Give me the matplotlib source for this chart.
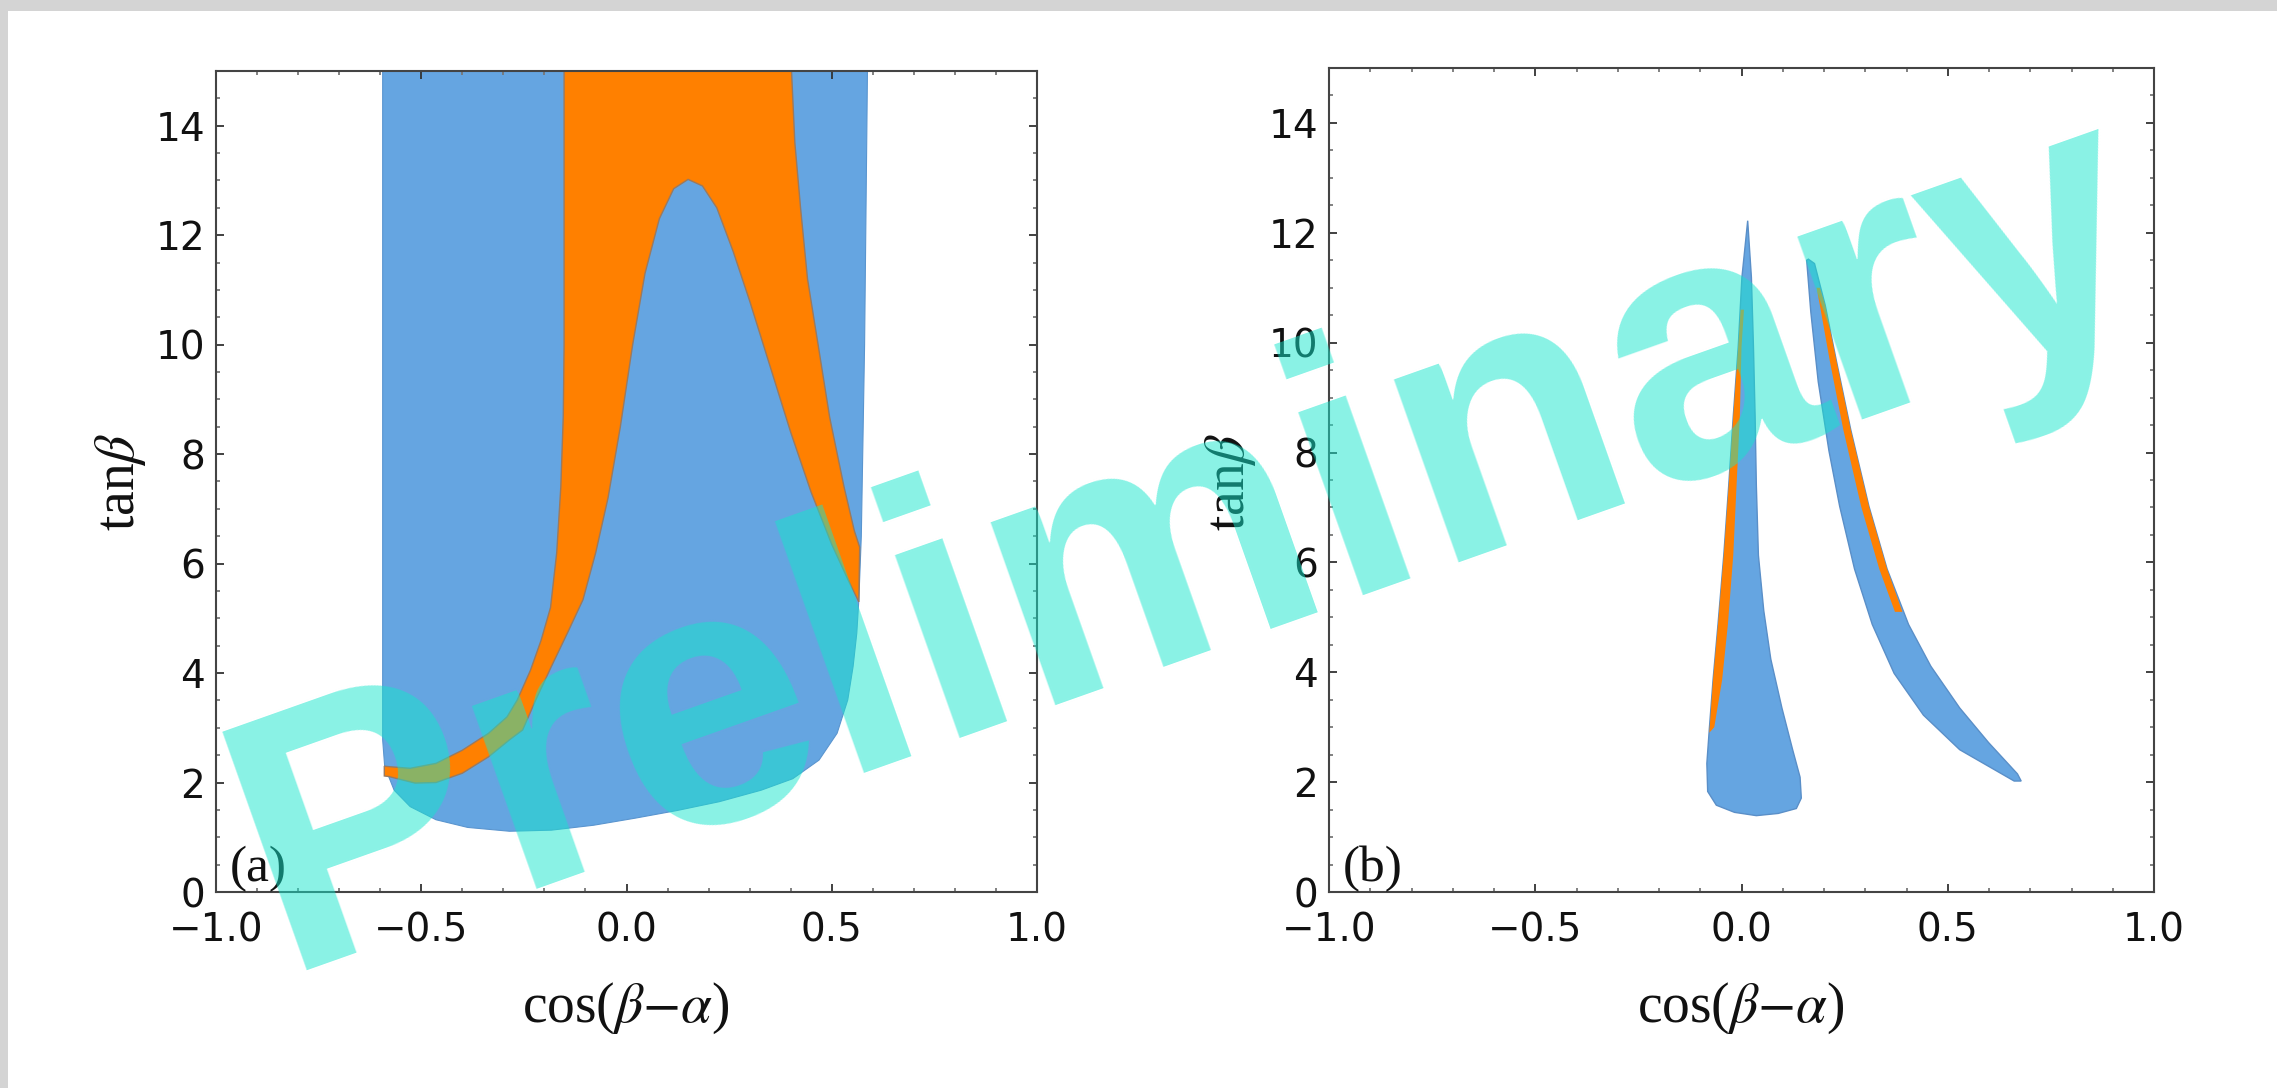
import matplotlib
matplotlib.use("Agg")
import matplotlib.pyplot as plt
from matplotlib.patches import Polygon, Rectangle
from matplotlib.ticker import MultipleLocator

# ---------------- data ----------------
# panel (a): allowed (blue) region boundary
blue_a_x = [-0.594, -0.594, -0.589, -0.566, -0.527, -0.464, -0.387, -0.285, -0.183,
            -0.080, 0.022, 0.124, 0.226, 0.328, 0.405, 0.469, 0.513, 0.539, 0.552,
            0.561, 0.566, 0.572, 0.580, 0.587]
blue_a_y = [15.0, 2.78, 2.29, 1.86, 1.56, 1.32, 1.18, 1.11, 1.13,
            1.22, 1.35, 1.49, 1.65, 1.86, 2.07, 2.41, 2.90, 3.51, 4.12,
            4.73, 5.34, 6.5, 10.0, 15.0]

# panel (a): orange region boundary
orange_a_x = [-0.152, -0.152, -0.154, -0.160, -0.170, -0.185, -0.208, -0.234, -0.266,
              -0.291, -0.336, -0.400, -0.464, -0.527, -0.579, -0.590,
              -0.590, -0.579, -0.515, -0.464, -0.400, -0.336, -0.285, -0.253,
              -0.221, -0.183, -0.144, -0.106, -0.075, -0.045, -0.015, 0.015,
              0.045, 0.080, 0.115, 0.150, 0.185, 0.220, 0.260, 0.300, 0.350,
              0.400, 0.450, 0.500, 0.540, 0.566,
              0.568, 0.555, 0.530, 0.495, 0.468, 0.441, 0.424, 0.410, 0.402]
orange_a_y = [15.0, 10.0, 8.7, 7.4, 6.2, 5.2, 4.60, 4.05, 3.51,
              3.20, 2.90, 2.59, 2.35, 2.26, 2.29, 2.30,
              2.12, 2.11, 1.99, 2.00, 2.17, 2.47, 2.78, 2.96,
              3.51, 4.12, 4.73, 5.34, 6.20, 7.20, 8.50, 10.0,
              11.3, 12.3, 12.85, 13.02, 12.90, 12.50, 11.70, 10.80, 9.60,
              8.40, 7.30, 6.35, 5.70, 5.30,
              6.30, 6.60, 7.40, 8.67, 9.94, 11.2, 12.5, 13.7, 15.0]

# panel (b): left allowed island
blue_b1_x = [0.015, 0.001, -0.008, -0.020, -0.031, -0.043, -0.057, -0.069, -0.078,
             -0.084, -0.082, -0.061, -0.017, 0.036, 0.089, 0.133, 0.145, 0.142,
             0.124, 0.098, 0.071, 0.054, 0.041, 0.036, 0.033, 0.029, 0.024]
blue_b1_y = [12.22, 11.19, 9.92, 8.66, 7.40, 6.13, 4.87, 3.86, 2.97,
             2.34, 1.83, 1.58, 1.45, 1.39, 1.43, 1.52, 1.71, 2.09,
             2.59, 3.35, 4.24, 5.12, 6.13, 7.40, 8.66, 9.92, 11.19]

# panel (b): right allowed island
blue_b2_x = [0.158, 0.168, 0.186, 0.212, 0.238, 0.274, 0.317, 0.370, 0.441, 0.529,
             0.617, 0.661, 0.678, 0.669, 0.599, 0.529, 0.459, 0.405, 0.353, 0.309,
             0.265, 0.230, 0.203, 0.177, 0.162]
blue_b2_y = [11.50, 10.56, 9.29, 8.03, 7.02, 5.88, 4.87, 3.98, 3.22, 2.59,
             2.21, 2.02, 2.02, 2.15, 2.72, 3.35, 4.11, 4.87, 5.88, 7.02,
             8.41, 9.67, 10.68, 11.44, 11.52]

# panel (b): orange slivers
orange_b1_x = [-0.078, -0.069, -0.057, -0.043, -0.031, -0.020, -0.008, -0.002,
               0.006, 0.000, -0.004, -0.012, -0.020, -0.033, -0.047, -0.066]
orange_b1_y = [2.90, 3.86, 4.87, 6.13, 7.40, 8.66, 9.92, 10.6,
               10.6, 9.92, 8.66, 7.40, 6.13, 4.87, 3.86, 3.00]
orange_b2_x = [0.190, 0.203, 0.230, 0.265, 0.309, 0.353, 0.390,
               0.372, 0.334, 0.290, 0.247, 0.214, 0.190, 0.182]
orange_b2_y = [11.0, 10.68, 9.67, 8.41, 7.02, 5.88, 5.10,
               5.10, 5.88, 7.02, 8.41, 9.67, 10.68, 11.0]

x_ticks = [-1.0, -0.5, 0.0, 0.5, 1.0]
x_ticklabels = ["\u22121.0", "\u22120.5", "0.0", "0.5", "1.0"]
y_ticks = [0, 2, 4, 6, 8, 10, 12, 14]
y_ticklabels = ["0", "2", "4", "6", "8", "10", "12", "14"]
panel_labels = ["(a)", "(b)"]
watermark = "Preliminary"

# ---------------- style ----------------
plt.rcParams["mathtext.fontset"] = "stix"
BLUE = "#65A5E1"
ORANGE = "#FF8000"
W, H = 2277, 1088

fig = plt.figure(figsize=(W / 100, H / 100), dpi=100)
fig.patch.set_facecolor("white")
# grey slide border (top and left)
fig.add_artist(Rectangle((0, 1 - 11 / H), 1, 11 / H, transform=fig.transFigure,
                         facecolor="#d4d4d4", edgecolor="none", zorder=0))
fig.add_artist(Rectangle((0, 0), 8 / W, 1, transform=fig.transFigure,
                         facecolor="#d4d4d4", edgecolor="none", zorder=0))

ax1 = fig.add_axes([216 / W, 1 - 892 / H, 821 / W, 821 / H])
ax2 = fig.add_axes([1329 / W, 1 - 892 / H, 825 / W, 824 / H])

ax1.add_patch(Polygon(list(zip(blue_a_x, blue_a_y)), closed=True,
                      facecolor=BLUE, edgecolor="#5a95cf", lw=0.8, zorder=1))
ax1.add_patch(Polygon(list(zip(orange_a_x, orange_a_y)), closed=True,
                      facecolor=ORANGE, edgecolor="#9a7a60", lw=1.0, zorder=2))

ax2.add_patch(Polygon(list(zip(blue_b1_x, blue_b1_y)), closed=True,
                      facecolor=BLUE, edgecolor="#5a8fc8", lw=1.0, zorder=1))
ax2.add_patch(Polygon(list(zip(blue_b2_x, blue_b2_y)), closed=True,
                      facecolor=BLUE, edgecolor="#5a8fc8", lw=1.0, zorder=1))
ax2.add_patch(Polygon(list(zip(orange_b1_x, orange_b1_y)), closed=True,
                      facecolor=ORANGE, edgecolor="none", zorder=2))
ax2.add_patch(Polygon(list(zip(orange_b2_x, orange_b2_y)), closed=True,
                      facecolor=ORANGE, edgecolor="none", zorder=2))

for ax, lab in zip([ax1, ax2], panel_labels):
    ax.set_xlim(-1, 1)
    ax.set_ylim(0, 15)
    ax.set_xticks(x_ticks)
    ax.set_xticklabels(x_ticklabels)
    ax.set_yticks(y_ticks)
    ax.set_yticklabels(y_ticklabels)
    ax.xaxis.set_minor_locator(MultipleLocator(0.1))
    ax.yaxis.set_minor_locator(MultipleLocator(0.5))
    ax.tick_params(which="both", direction="in", top=True, right=True,
                   color="#333333", width=1.3)
    ax.tick_params(which="major", length=5.5)
    ax.tick_params(which="minor", length=3.2, color="#777777")
    ax.tick_params(axis="x", which="major", pad=14)
    ax.tick_params(axis="y", which="major", pad=8)
    for t in ax.get_xticklabels() + ax.get_yticklabels():
        t.set_fontfamily("DejaVu Sans")
        t.set_fontsize(28)
        t.set_color("#111111")
    for s in ax.spines.values():
        s.set_color("#444444")
        s.set_linewidth(1.5)
    ax.text(0.017, 0.0, lab, transform=ax.transAxes, ha="left", va="bottom",
            fontfamily="Liberation Serif", fontsize=37, color="#111111", zorder=5)

# axis labels
for xc in [626, 1741]:
    fig.text(xc / W, 1 - 1008 / H, r"cos($\beta{-}\alpha$)", ha="center", va="center",
             fontfamily="Liberation Serif", fontsize=40, color="#111111")
for xc in [120, 1231]:
    fig.text(xc / W, 1 - 482 / H, r"tan$\beta$", ha="center", va="center", rotation=90,
             fontfamily="Liberation Serif", fontsize=40, color="#111111")

# watermark
fig.text(282 / W, 1 - 970 / H, watermark, ha="left", va="baseline", rotation=19.5,
         rotation_mode="anchor", fontfamily="Liberation Sans", fontweight="bold",
         fontsize=264, color="#14E6CC", alpha=0.5, zorder=20)

fig.savefig("out.png", dpi=100)
